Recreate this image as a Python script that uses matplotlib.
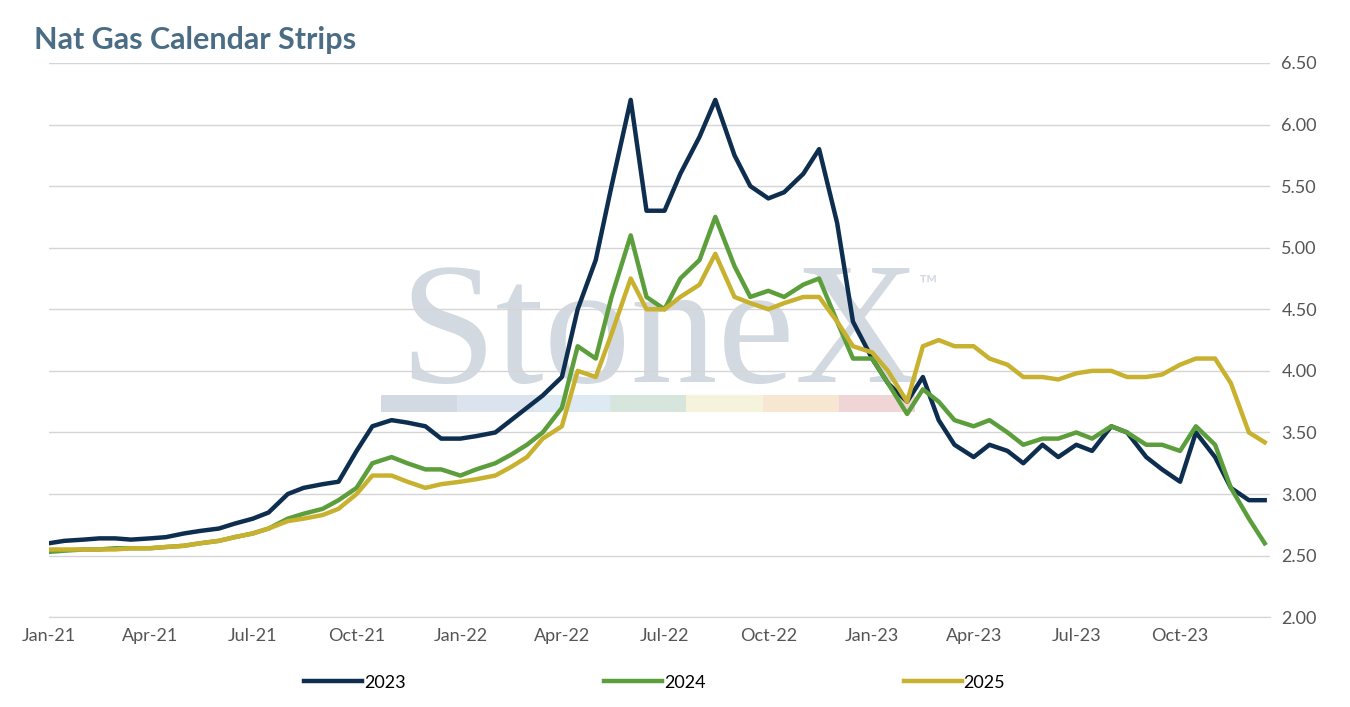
import numpy as np
import pandas as pd
import matplotlib
matplotlib.use("Agg")
import matplotlib.pyplot as plt
import matplotlib.dates as mdates

plt.rcParams['font.family'] = ['Lato', 'DejaVu Sans']

# semi-monthly readings, Jan-21 .. mid Dec-23
dates = pd.date_range("2021-01-01", "2023-12-31", freq="SMS")[:72]

s2023 = [2.60, 2.62, 2.63, 2.64, 2.64, 2.63, 2.64, 2.65, 2.68, 2.70, 2.72, 2.76,
         2.80, 2.85, 3.00, 3.05, 3.08, 3.10, 3.35, 3.55, 3.60, 3.58, 3.55, 3.45,
         3.45, 3.47, 3.50, 3.60, 3.70, 3.80, 3.95, 4.50, 4.90, 5.50, 6.20, 5.30,
         5.30, 5.60, 5.90, 6.20, 5.75, 5.50, 5.40, 5.45, 5.60, 5.80, 5.20, 4.40,
         4.10, 3.90, 3.75, 3.95, 3.60, 3.40, 3.30, 3.40, 3.35, 3.25, 3.40, 3.30,
         3.40, 3.35, 3.55, 3.50, 3.30, 3.20, 3.10, 3.50, 3.30, 3.05, 2.95, 2.95]
s2024 = [2.53, 2.54, 2.55, 2.55, 2.56, 2.56, 2.56, 2.57, 2.58, 2.60, 2.62, 2.65,
         2.68, 2.72, 2.80, 2.84, 2.88, 2.95, 3.05, 3.25, 3.30, 3.25, 3.20, 3.20,
         3.15, 3.20, 3.25, 3.32, 3.40, 3.50, 3.70, 4.20, 4.10, 4.60, 5.10, 4.60,
         4.50, 4.75, 4.90, 5.25, 4.85, 4.60, 4.65, 4.60, 4.70, 4.75, 4.40, 4.10,
         4.10, 3.90, 3.65, 3.85, 3.75, 3.60, 3.55, 3.60, 3.50, 3.40, 3.45, 3.45,
         3.50, 3.45, 3.55, 3.50, 3.40, 3.40, 3.35, 3.55, 3.40, 3.05, 2.80, 2.60]
s2025 = [2.55, 2.55, 2.55, 2.55, 2.55, 2.56, 2.56, 2.57, 2.58, 2.60, 2.62, 2.65,
         2.68, 2.72, 2.78, 2.80, 2.83, 2.88, 3.00, 3.15, 3.15, 3.10, 3.05, 3.08,
         3.10, 3.12, 3.15, 3.22, 3.30, 3.45, 3.55, 4.00, 3.95, 4.30, 4.75, 4.50,
         4.50, 4.60, 4.70, 4.95, 4.60, 4.55, 4.50, 4.55, 4.60, 4.60, 4.40, 4.20,
         4.15, 4.00, 3.75, 4.20, 4.25, 4.20, 4.20, 4.10, 4.05, 3.95, 3.95, 3.93,
         3.98, 4.00, 4.00, 3.95, 3.95, 3.97, 4.05, 4.10, 4.10, 3.90, 3.50, 3.42]

fig = plt.figure(figsize=(13.5, 7.07), dpi=100)
ax = fig.add_axes([0.036, 0.127, 0.905, 0.784])

# watermark
ax.text(0.5, 0.5, "StoneX", transform=ax.transAxes, ha="center", va="center",
        fontsize=125, family="Liberation Serif", color="#d3d9e1", zorder=0)
ax.text(0.72, 0.6, "™", transform=ax.transAxes, ha="center", va="center",
        fontsize=18, color="#d3d9e1", zorder=0)
wm_cols = ["#d3d9e2", "#dbe3ee", "#dde9f3", "#d7e6dc", "#f6f3dc", "#f7e6d2", "#efd5d5"]
for i, c in enumerate(wm_cols):
    ax.axhspan(3.67, 3.8, xmin=0.272 + i * 0.0625, xmax=0.272 + (i + 1) * 0.0625,
               color=c, zorder=0, lw=0)

ax.plot(dates, s2023, color="#0e2e50", lw=3.2, label="2023", zorder=3)
ax.plot(dates, s2024, color="#5b9e3b", lw=3.2, label="2024", zorder=3)
ax.plot(dates, s2025, color="#c9b130", lw=3.2, label="2025", zorder=4)

ax.set_ylim(2.0, 6.5)
ax.set_yticks(np.arange(2.0, 6.51, 0.5))
ax.yaxis.tick_right()
ax.yaxis.set_major_formatter(plt.FuncFormatter(lambda v, p: f"{v:.2f}"))
ax.set_xlim(pd.Timestamp("2021-01-01"), pd.Timestamp("2023-12-20"))
ax.xaxis.set_major_locator(mdates.MonthLocator(bymonth=[1, 4, 7, 10]))
ax.xaxis.set_major_formatter(mdates.DateFormatter("%b-%y"))
ax.grid(axis="y", color="#d5d5d5", lw=1)
ax.tick_params(length=0, labelsize=13, colors="#555555", pad=8)
for s in ax.spines.values():
    s.set_visible(False)
ax.spines["bottom"].set_visible(True)
ax.spines["bottom"].set_color("#d5d5d5")

fig.text(0.025, 0.93, "Nat Gas Calendar Strips", fontsize=22, weight="bold", color="#4a6d85")
fig.legend(loc="lower center", ncol=3, frameon=False, fontsize=13, bbox_to_anchor=(0.485, 0.0),
           columnspacing=11, handlelength=3.2, handletextpad=0.1)

fig.savefig("out.png")
